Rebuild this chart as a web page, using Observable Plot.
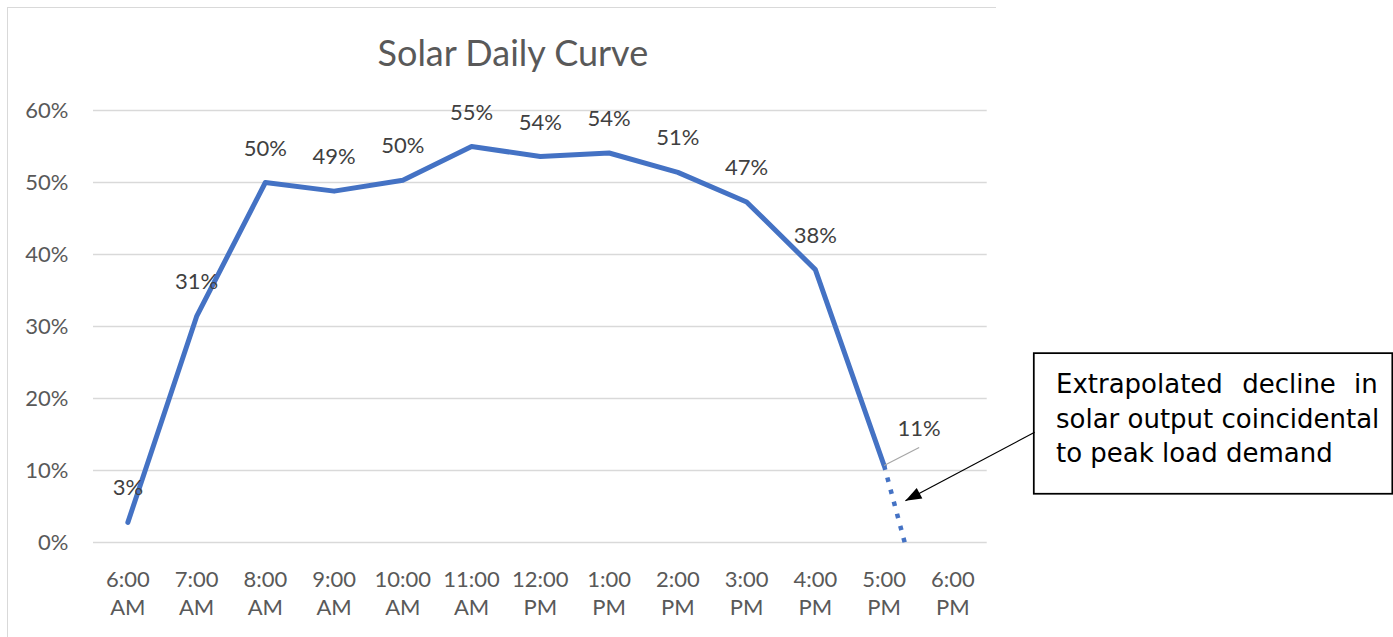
<!DOCTYPE html>
<html><head><meta charset="utf-8">
<script src="https://cdn.jsdelivr.net/npm/d3@7"></script>
<script src="https://cdn.jsdelivr.net/npm/@observablehq/plot@0.6"></script>
<style>
html,body{margin:0;padding:0;background:#fff;}
#wrap{position:relative;width:1393px;height:637px;overflow:hidden;}
#chart{position:absolute;left:0;top:0;}
#frame{position:absolute;left:7px;top:7px;width:988px;height:700px;border-left:1.5px solid #d9d9d9;border-top:1.5px solid #d9d9d9;pointer-events:none;}
</style></head><body>
<div id="wrap"><div id="chart"></div><div id="frame"></div></div>
<script>
// ---- data ----
const times = ["6:00 AM","7:00 AM","8:00 AM","9:00 AM","10:00 AM","11:00 AM","12:00 PM","1:00 PM","2:00 PM","3:00 PM","4:00 PM","5:00 PM","6:00 PM"];
const solarOutput = [0.028, 0.314, 0.500, 0.488, 0.503, 0.550, 0.536, 0.541, 0.514, 0.473, 0.379, 0.107];
const extrapolatedTime = [11, 11.3];       // category index (5:00 PM → ~5:20 PM)
const extrapolatedOutput = [0.107, 0.0];
const yTicks = [0, 0.1, 0.2, 0.3, 0.4, 0.5, 0.6];
const title = "Solar Daily Curve";
const noteLines = ["Extrapolated decline in", "solar output coincidental", "to peak load demand"];

// ---- tables built from the arrays ----
const points = solarOutput.map((v, i) => ({i, v, time: times[i]}));
const extrap = extrapolatedTime.map((t, k) => ({i: t, v: extrapolatedOutput[k]}));
const pct = d3.format(".0%");
const blue = "#4472C4";

// annotation placement (data coordinates)
const box = {x1: 13.185, x2: 18.4, y1: 0.067, y2: 0.2623};
const noteX1 = 13.5, noteX2 = 18.18, noteMid = 16.89;
const noteY = [0.2072, 0.1586, 0.1114];
const arrow = {x1: 13.19, y1: 0.1531, x2: 11.31, y2: 0.058};
const arrowHead = {draw(ctx) { ctx.moveTo(0, 0); ctx.lineTo(-6, 16); ctx.lineTo(6, 16); ctx.closePath(); }};
const line1Words = noteLines[0].split(" ");

const chart = Plot.plot({
  width: 1393,
  height: 637,
  marginTop: 110,
  marginBottom: 95,
  marginLeft: 93,
  marginRight: 0,
  style: {fontFamily: "Lato, sans-serif", fontSize: "22px", color: "#595959", background: "transparent"},
  x: {type: "linear", domain: [-0.5, 18.41]},
  y: {domain: [0, 0.6]},
  marks: [
    Plot.ruleY(yTicks, {x1: -0.5, x2: 12.5, stroke: "#d9d9d9", strokeWidth: 1.5}),
    Plot.axisY({ticks: yTicks, tickFormat: pct, tickSize: 0, tickPadding: 25, label: null, fill: "#595959"}),
    Plot.axisX({ticks: d3.range(times.length), tickFormat: i => times[i].replace(" ", "\n"),
      tickSize: 0, tickPadding: 25, lineHeight: 1.27, label: null, fill: "#595959"}),
    Plot.text([title], {x: 5.6, frameAnchor: "top", dy: -45, lineAnchor: "bottom", fontSize: 36, fill: "#595959"}),
    Plot.line(points, {x: "i", y: "v", stroke: blue, strokeWidth: 5, strokeLinejoin: "round", strokeLinecap: "round"}),
    Plot.line(extrap, {x: "i", y: "v", stroke: blue, strokeWidth: 4.5, strokeLinecap: "butt", strokeDasharray: "4.5 8"}),
    Plot.text(points.slice(0, 11), {x: "i", y: "v", text: d => pct(d.v), dy: -34, fill: "#404040"}),
    Plot.link([points[11]], {x1: "i", y1: "v", x2: 11.51, y2: 0.132, stroke: "#a6a6a6", strokeWidth: 1.2}),
    Plot.text([points[11]], {x: "i", y: "v", text: d => pct(d.v), dx: 35, dy: -37, fill: "#404040"}),
    // annotation box
    Plot.rect([box], {x1: "x1", x2: "x2", y1: "y1", y2: "y2", fill: "white", stroke: "black", strokeWidth: 1.75}),
    Plot.text([line1Words[0]], {x: noteX1, y: noteY[0], text: d => d, textAnchor: "start", lineAnchor: "bottom", fontFamily: "DejaVu Sans", fontSize: 26, fill: "black"}),
    Plot.text([line1Words[1]], {x: noteMid, y: noteY[0], text: d => d, textAnchor: "middle", lineAnchor: "bottom", fontFamily: "DejaVu Sans", fontSize: 26, fill: "black"}),
    Plot.text([line1Words[2]], {x: noteX2, y: noteY[0], text: d => d, textAnchor: "end", lineAnchor: "bottom", fontFamily: "DejaVu Sans", fontSize: 26, fill: "black"}),
    Plot.text(noteLines.slice(1), {x: noteX1, y: (d, k) => noteY[k + 1], text: d => d, textAnchor: "start", lineAnchor: "bottom", fontFamily: "DejaVu Sans", fontSize: 26, fill: "black"}),
    // arrow
    Plot.link([arrow], {x1: "x1", y1: "y1", x2: "x2", y2: "y2", stroke: "black", strokeWidth: 1.25}),
    Plot.dot([arrow], {x: "x2", y: "y2", symbol: arrowHead, fill: "black", stroke: "none", rotate: 242.1})
  ]
});
document.getElementById("chart").appendChild(chart);
</script>
</body></html>
